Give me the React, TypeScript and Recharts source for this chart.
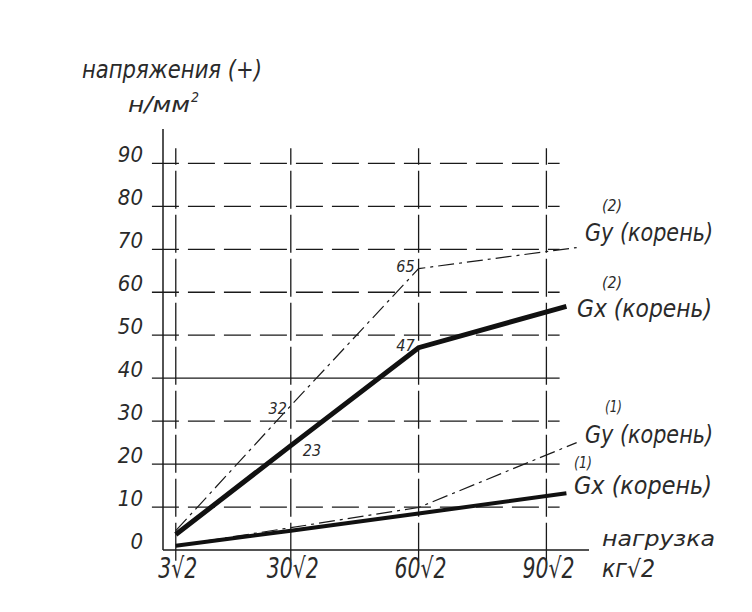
import React from 'react'
import { LineChart, Line, XAxis, YAxis, ReferenceLine, LabelList } from 'recharts'

// load values (kg·√2) and stresses (N/mm²)
const gx2Load = [3, 30, 60, 94.7]
const gx2Stress = [3.6, 24.3, 47.1, 56.7]
const gx2Notes = ['', '23', '47', '']

const gy2Load = [3, 30, 60, 97.1]
const gy2Stress = [4.5, 33.6, 65.5, 70.4]
const gy2Notes = ['', '32', '65', '']

const gx1Load = [3, 30, 60, 94.7]
const gx1Stress = [1, 4.5, 8.5, 13.2]

const gy1Load = [3, 30, 60, 97.1]
const gy1Stress = [1, 5.2, 9.9, 25]

const loadTicks = [3, 30, 60, 90]
const loadTickLabels = ['3√2', '30√2', '60√2', '90√2']
const stressTicks = [0, 10, 20, 30, 40, 50, 60, 70, 80, 90]
const gridStress = [10, 20, 30, 40, 50, 60, 70, 80, 90]
const solidGridStress = [20, 40]

const toRows = (xs: number[], ys: number[], notes?: string[]) =>
  xs.map((x, i) => ({ x, y: ys[i], note: notes ? notes[i] : '' }))

const gx2Data = toRows(gx2Load, gx2Stress, gx2Notes)
const gy2Data = toRows(gy2Load, gy2Stress, gy2Notes)
const gx1Data = toRows(gx1Load, gx1Stress)
const gy1Data = toRows(gy1Load, gy1Stress)

const FONT = "'DejaVu Sans Condensed', 'DejaVu Sans', sans-serif"
const INK = '#1a1a1a'
const TEXT = '#2a2a2a'

const YTick = (props: any) => {
  const { x, y, payload } = props
  return (
    <text x={x + 1} y={y - 1} textAnchor='end' fontFamily={FONT} fontStyle='italic' fontSize={22} fill={TEXT}>
      {payload.value}
    </text>
  )
}

const XTick = (props: any) => {
  const { x, y, payload } = props
  const i = loadTicks.indexOf(payload.value)
  const label = loadTickLabels[i] ?? String(payload.value)
  return (
    <text
      x={x + 2}
      y={y + 20}
      textAnchor='middle'
      fontFamily={FONT}
      fontStyle='italic'
      fontSize={28}
      fill={TEXT}
      textLength={label.length * 13}
      lengthAdjust='spacingAndGlyphs'
    >
      {label}
    </text>
  )
}

// point notes: 32 / 65 sit left of the dash-dot line, 23 right of the thick one, 47 left
const makeNote = (side: ('l' | 'r' | '')[]) => (props: any) => {
  const { x, y, value, index } = props
  if (!value) return null
  const s = side[index]
  const dx = s === 'r' ? 12 : -4
  const dy = s === 'r' ? 10 : index === 1 ? 8 : 3
  return (
    <text x={x + dx} y={y + dy} textAnchor={s === 'r' ? 'start' : 'end'} fontFamily={FONT} fontStyle='italic' fontSize={16} fill={TEXT}>
      {value}
    </text>
  )
}

const Caption = ({ x, y, w, size, children }: any) => (
  <text x={x} y={y} fontFamily={FONT} fontStyle='italic' fontSize={size} fill={TEXT} textLength={w} lengthAdjust='spacingAndGlyphs'>
    {children}
  </text>
)

export default function App() {
  return (
    <div style={{ position: 'absolute', left: 0, top: 0, width: 752, height: 612, background: '#fff' }}>
      <LineChart width={752} height={612} margin={{ top: 129, right: 163, bottom: 32, left: 0 }}>
        <XAxis
          dataKey='x'
          type='number'
          domain={[0, 100]}
          ticks={loadTicks}
          allowDuplicatedCategory={false}
          tickLine={false}
          tick={<XTick />}
          height={30}
          axisLine={{ stroke: INK, strokeWidth: 1.5 }}
        />
        <YAxis
          type='number'
          domain={[0, 98]}
          ticks={stressTicks}
          tickLine={false}
          tick={<YTick />}
          tickMargin={15}
          width={163}
          axisLine={{ stroke: INK, strokeWidth: 1.5 }}
        />

        {gridStress.map((v) => (
          <ReferenceLine
            key={`h${v}`}
            segment={[{ x: -2.6, y: v }, { x: 93.1, y: v }]}
            ifOverflow='visible'
            stroke={INK}
            strokeWidth={1.3}
            strokeDasharray={solidGridStress.includes(v) ? undefined : '27 9'}
          />
        ))}
        {loadTicks.map((v) => (
          <ReferenceLine
            key={`v${v}`}
            segment={[{ x: v, y: -2.5 }, { x: v, y: 93.5 }]}
            ifOverflow='visible'
            stroke={INK}
            strokeWidth={1.3}
            strokeDasharray='38 6'
          />
        ))}

        <Line data={gy2Data} dataKey='y' stroke={INK} strokeWidth={1.2} strokeDasharray='16 5 3 5' dot={false} isAnimationActive={false}>
          <LabelList dataKey='note' content={makeNote(['', 'l', 'l', ''])} />
        </Line>
        <Line data={gy1Data} dataKey='y' stroke={INK} strokeWidth={1.2} strokeDasharray='16 5 3 5' dot={false} isAnimationActive={false} />
        <Line data={gx2Data} dataKey='y' stroke='#111' strokeWidth={5} dot={false} isAnimationActive={false}>
          <LabelList dataKey='note' content={makeNote(['', 'r', 'l', ''])} />
        </Line>
        <Line data={gx1Data} dataKey='y' stroke='#111' strokeWidth={4} dot={false} isAnimationActive={false} />
      </LineChart>

      <svg width={752} height={612} style={{ position: 'absolute', left: 0, top: 0, pointerEvents: 'none' }}>
        <Caption x={82} y={78} w={180} size={24}>напряжения (+)</Caption>
        <Caption x={128} y={112} w={62} size={22}>н/мм</Caption>
        <Caption x={191} y={102} w={8} size={14}>2</Caption>

        <Caption x={602} y={211} w={20} size={15}>(2)</Caption>
        <Caption x={585} y={241} w={128} size={25}>Gy (корень)</Caption>
        <Caption x={602} y={288} w={20} size={15}>(2)</Caption>
        <Caption x={577} y={317} w={135} size={25}>Gx (корень)</Caption>

        <Caption x={605} y={412} w={17} size={15}>(1)</Caption>
        <Caption x={585} y={443} w={128} size={25}>Gy (корень)</Caption>
        <Caption x={574} y={468} w={18} size={15}>(1)</Caption>
        <Caption x={574} y={494} w={138} size={25}>Gx (корень)</Caption>

        <Caption x={602} y={546} w={113} size={22}>нагрузка</Caption>
        <Caption x={602} y={577} w={53} size={24}>кг√2</Caption>
      </svg>
    </div>
  )
}
